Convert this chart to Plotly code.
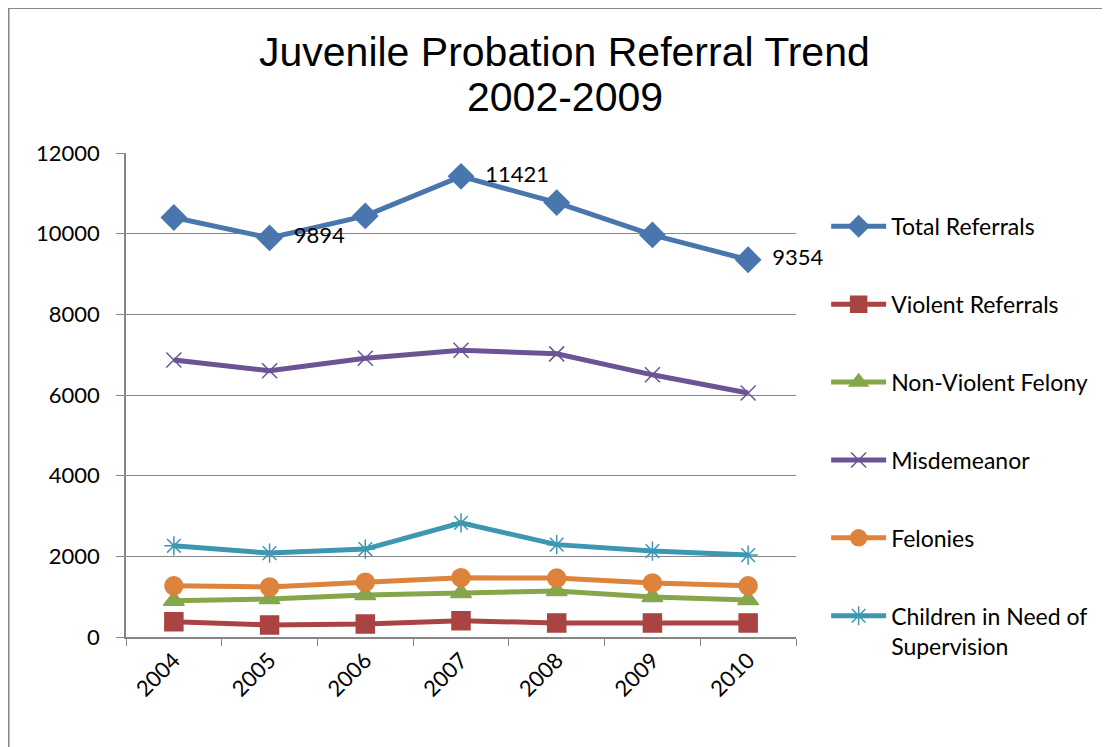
import plotly.graph_objects as go

years = ["2004", "2005", "2006", "2007", "2008", "2009", "2010"]

total = [10400, 9894, 10440, 11421, 10770, 9970, 9354]
violent = [380, 300, 320, 400, 350, 350, 350]
nonviolent = [900, 940, 1040, 1090, 1140, 990, 920]
misdemeanor = [6870, 6600, 6910, 7110, 7020, 6500, 6050]
felonies = [1270, 1240, 1360, 1470, 1460, 1340, 1270]
chins = [2260, 2080, 2180, 2830, 2290, 2130, 2030]

total_labels = ["", "9894", "", "11421", "", "", "9354"]

font = "Lato, Calibri, sans-serif"
pad = "\u00a0\u00a0"

series = [
    ("Total Referrals", total, "#4A76AE", "diamond", 19),
    ("Violent Referrals", violent, "#A94442", "square", 18),
    ("Non-Violent Felony", nonviolent, "#86A64B", "triangle-up", 18),
    ("Misdemeanor", misdemeanor, "#6C5394", "x-thin-open", 15),
    ("Felonies", felonies, "#DD833B", "circle", 18),
    ("Children in Need of<br>Supervision", chins, "#3E97B2", "asterisk-open", 16),
]

fig = go.Figure()
for i, (name, vals, color, sym, size) in enumerate(series):
    fig.add_trace(go.Scatter(
        x=years, y=vals, name=name, legendgroup=str(i),
        mode="lines+markers+text" if i == 0 else "lines+markers",
        text=[pad + t if t else "" for t in total_labels] if i == 0 else None,
        textposition="middle right", cliponaxis=False,
        textfont=dict(family=font, size=22, color="black"),
        line=dict(color=color, width=5),
        marker=dict(symbol=sym, size=size, color=color,
                    line=dict(color=color, width=1.5)),
    ))

fig.update_layout(
    width=1110, height=747,
    paper_bgcolor="white", plot_bgcolor="white",
    margin=dict(l=118, r=322, t=145, b=118),
    font=dict(family=font, size=22, color="black"),
    legend=dict(x=1.045, y=0.893, xanchor="left", yanchor="top",
                tracegroupgap=45, valign="top", itemwidth=55,
                font=dict(family=font, size=23, color="black")),
    showlegend=True,
)
title_font = dict(family="Liberation Sans, Arial, sans-serif", size=41, color="black")
fig.add_annotation(text="Juvenile Probation Referral Trend", xref="paper", yref="paper",
                   x=0.655, y=1.2087, xanchor="center", yanchor="middle",
                   showarrow=False, font=title_font)
fig.add_annotation(text="2002-2009", xref="paper", yref="paper",
                   x=0.655, y=1.1157, xanchor="center", yanchor="middle",
                   showarrow=False, font=title_font)
fig.update_xaxes(range=[-0.5, 6.5], showline=True, linecolor="#868686", linewidth=1.5,
                 ticks="outside", tickson="boundaries", ticklen=7, tickcolor="#868686",
                 tickangle=-45, showgrid=False, tickfont=dict(family=font, size=22))
fig.update_yaxes(range=[0, 12000], dtick=2000, tickformat="d", showline=True,
                 linecolor="#868686", linewidth=1.5, ticks="outside", ticklen=8,
                 tickcolor="#868686", ticklabelstandoff=12,
                 showgrid=True, gridcolor="#868686", gridwidth=1, zeroline=False,
                 tickfont=dict(family=font, size=22))

# chart frame
fig.add_shape(type="rect", xref="paper", yref="paper",
              x0=-0.175, x1=1.6, y0=-0.5, y1=1.299,
              line=dict(color="#868686", width=1.5), layer="below")

fig.write_html("out.html")
